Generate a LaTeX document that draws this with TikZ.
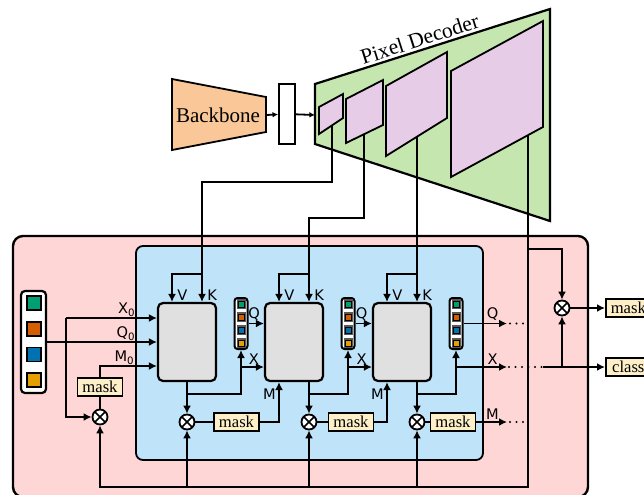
\documentclass[tikz,border=0pt]{standalone}
\usepackage{fontspec}
\setmainfont{Liberation Serif}
\newfontfamily\lblfont{DejaVu Sans}
\usepackage{tikz}
\usetikzlibrary{arrows.meta, positioning}
\definecolor{rosaChiaro}{RGB}{255, 214, 214}
\definecolor{azzurroChiaro}{RGB}{191, 227, 248}
\definecolor{grigioChiaro}{RGB}{224, 224, 224}
\definecolor{verdeChiaro}{RGB}{198, 230, 176}
\definecolor{violaChiaro}{RGB}{230, 204, 230}
\definecolor{arancioChiaro}{RGB}{249, 199, 152}
\definecolor{crema}{RGB}{253, 240, 200}
\definecolor{tokVerde}{RGB}{0, 158, 115}
\definecolor{tokArancio}{RGB}{213, 94, 0}
\definecolor{tokBlu}{RGB}{0, 114, 178}
\definecolor{tokGiallo}{RGB}{230, 159, 0}

\begin{document}
\begin{tikzpicture}[x=0.5pt, y=-0.5pt,
    conn/.style={draw=black, line width=0.9pt},
    arr/.style={conn, -{Latex[length=4pt, width=4pt]}},
    blocco/.style={draw=black, line width=1.1pt, rounded corners=2.5pt, fill=grigioChiaro, minimum width=29pt, minimum height=39pt, inner sep=0pt},
    maskbox/.style={draw=black, line width=0.8pt, fill=crema, minimum width=22.5pt, minimum height=9pt, inner sep=0pt, font=\fontsize{8.3}{8.3}\selectfont},
    prod/.style={circle, draw=black, line width=0.9pt, fill=white, minimum size=7.5pt, inner sep=0pt,
        path picture={\draw[line width=0.8pt] (path picture bounding box.north west) -- (path picture bounding box.south east)
            (path picture bounding box.north east) -- (path picture bounding box.south west);}},
    lbl/.style={font=\lblfont\fontsize{7.3}{8}\selectfont, inner sep=0.5pt},
    dotline/.style={line width=1.1pt, line cap=round, dash pattern=on 0pt off 3.25pt}]
    \useasboundingbox (0,0) rectangle (644,494);

    % Containers
    \draw[fill=rosaChiaro, line width=1.2pt, rounded corners=5pt] (13,236) rectangle (588,497);
    \draw[fill=azzurroChiaro, line width=0.9pt, rounded corners=3.5pt] (136,246) rectangle (483,460);

    % Backbone and Pixel Decoder
    \draw[fill=arancioChiaro, line width=0.9pt] (172,79) -- (266,97) -- (266,132) -- (172,150) -- cycle;
    \node[font=\fontsize{10.5}{11}\selectfont] (bb) at (218,115) {Backbone};
    \coordinate (bbr) at (266,115);
    \node[draw, fill=white, line width=0.9pt, minimum width=8pt, minimum height=30pt, inner sep=0pt] (neck) at (287,114) {};
    \draw[fill=verdeChiaro, line width=1.1pt] (315,84) -- (550,9) -- (550,221) -- (315,144) -- cycle;
    \coordinate (pdl) at (315,115);
    \node[rotate=17.7, anchor=south, inner sep=1.5pt, font=\fontsize{10.8}{11}\selectfont] (pdtitle) at (423,49.5) {Pixel Decoder};
    \foreach \xa/\ya/\yb/\xb/\yc/\yd in {319/107/134/343/94/118, 346/99/143/383/80/125, 386/86/156/447/52/118, 451/71/177/543/21/127}
        \draw[fill=violaChiaro, line width=0.9pt] (\xa,\ya) -- (\xb,\yc) -- (\xb,\yd) -- (\xa,\yb) -- cycle;
    \coordinate (p1) at (332,125.3);
    \coordinate (p2) at (364,134.2);
    \coordinate (p3) at (417,136.7);
    \coordinate (p4) at (528,135.2);
    \draw[conn, -{Latex[length=2.8pt, width=2.8pt]}] (bbr) -- (neck);
    \draw[conn, -{Latex[length=2.8pt, width=2.8pt]}] (neck) -- (pdl);

    % Queries
    \node[draw, line width=1.1pt, rounded corners=2pt, fill=white, minimum width=12.5pt, minimum height=51pt, inner sep=0pt] (tok) at (33.5,342) {};
    \foreach \c [count=\i from 0] in {tokVerde, tokArancio, tokBlu, tokGiallo}
        \node[draw, line width=0.8pt, fill=\c, minimum size=7pt, inner sep=0pt] (tok-\i) at (34, {303+25.7*\i}) {};
    \foreach \n/\cx in {2/241, 3/348, 4/456} {
        \node[draw, line width=1pt, rounded corners=1.5pt, fill=white, minimum width=6.5pt, minimum height=25.5pt, inner sep=0pt] (col\n) at (\cx,323.5) {};
        \foreach \c [count=\i from 0] in {tokVerde, tokArancio, tokBlu, tokGiallo} {
            \fill[black!65] (\cx-4.5, {304+13*\i-4.8}) rectangle (\cx+4.5, {304+13*\i+4.8});
            \node[draw, line width=0.5pt, fill=\c, minimum size=3pt, inner sep=0pt] (col\n-\i) at (\cx, {304+13*\i}) {};
        }
    }

    % Decoder layers
    \node[blocco] (b1) at (187,342) {};
    \node[blocco] (b2) at (294,342) {};
    \node[blocco] (b3) at (402,342) {};

    % Masking
    \node[prod] (m0) at (100,417) {};
    \node[prod] (m1) at (187,422) {};
    \node[prod] (m2) at (309,422) {};
    \node[prod] (m3) at (417,422) {};
    \node[prod] (mo) at (562,308) {};
    \node[maskbox] (k0) at (100,387) {mask};
    \node[maskbox] (k1) at (236.5,422) {mask};
    \node[maskbox] (k2) at (351,422) {mask};
    \node[maskbox] (k3) at (453,422) {mask};
    \node[maskbox, anchor=west] (omask) at (605,308) {mask};
    \node[maskbox, anchor=west] (oclass) at (605,367) {class};

    % V and K
    \foreach \i in {1,2,3} {
        \coordinate (vin\i) at ([xshift=-7.5pt]b\i.north);
        \coordinate (kin\i) at ([xshift=7.5pt]b\i.north);
        \draw[arr] (kin\i |- 0,274) -| (vin\i);
        \node[lbl, anchor=south west] (lv\i) at ([xshift=2pt]vin\i) {V};
        \node[lbl, anchor=south west] (lk\i) at ([xshift=2pt]kin\i) {K};
    }
    \draw[arr] (p1) -- (p1 |- 0,182) -| (kin1);
    \draw[arr] (p2) -- (p2 |- 0,218) -| (kin2);
    \draw[arr] (p3) -- (kin3);

    % Inputs of the first layer
    \coordinate (x0s) at (66,318);
    \draw[arr] (x0s) -- (x0s -| b1.west);
    \draw[arr] (x0s) |- (m0);
    \draw[arr] (tok.east) -- (b1.west);
    \draw[conn] (m0) -- (k0);
    \draw[arr] (k0) |- (b1.west |- 0,366);
    \node[lbl, anchor=south east] (lx0) at (137,318) {X\textsubscript{0}};
    \node[lbl, anchor=south east] (lq0) at (137,342) {Q\textsubscript{0}};
    \node[lbl, anchor=south east] (lm0) at (136,366) {M\textsubscript{0}};

    % Between layers
    \draw[arr] (b1.south) -- (m1);
    \draw[arr] (b2.south -| m2) -- (m2);
    \draw[arr] (b3.south -| m3) -- (m3);
    \draw[arr] (m1 |- 0,394) -| (col2.south);
    \draw[arr] (m2 |- 0,394) -| (col3.south);
    \draw[arr] (m3 |- 0,394) -| (col4.south);
    \draw[arr] (col2.east) -- (col2.east -| b2.west);
    \draw[arr] (col3.east) -- (col3.east -| b3.west);
    \draw[arr] (col2 |- 0,367) -- (b2.west |- 0,367);
    \draw[arr] (col3 |- 0,367) -- (b3.west |- 0,367);
    \draw[conn] (m1) -- (k1);
    \draw[conn] (m2) -- (k2);
    \draw[conn] (m3) -- (k3);
    \draw[arr] (k1.east) -| (vin2 |- b2.south);
    \draw[arr] (k2.east) -| (vin3 |- b3.south);
    \node[lbl, anchor=south] (lq2) at (254,322) {Q};
    \node[lbl, anchor=south] (lx2) at (254,366) {X};
    \node[lbl, anchor=south] (lq3) at (361.5,322) {Q};
    \node[lbl, anchor=south] (lx3) at (361.5,366) {X};
    \node[lbl, anchor=east] (lm2) at (277,394.5) {M};
    \node[lbl, anchor=east] (lm3) at (385,394.5) {M};

    % Outputs
    \coordinate (qout) at (507,323.5);
    \coordinate (xout) at (507,367);
    \coordinate (mout) at (507,422);
    \coordinate (xs) at (543,367);
    \draw[arr] (col4.east) -- (qout);
    \draw[arr] (col4 |- 0,367) -- (xout);
    \draw[arr] (k3.east) -- (mout);
    \draw[dotline] ([xshift=1.5pt]qout) -- ++(6.7pt,0);
    \draw[dotline] ([xshift=1pt]xout) -- ++(16.4pt,0);
    \draw[dotline] ([xshift=1.5pt]mout) -- ++(6.7pt,0);
    \node[lbl, anchor=south] (lqo) at (492.5,322) {Q};
    \node[lbl, anchor=south] (lxo) at (492.5,366) {X};
    \node[lbl, anchor=south] (lmo) at (492.5,421) {M};
    \draw[arr] (p4) |- (m0 |- 0,487) -- (m0);
    \foreach \m in {m1,m2,m3}
        \draw[arr] (\m |- 0,487) -- (\m);
    \draw[arr] (p4 |- 0,249) -| (mo);
    \draw[arr] (xs) -- (oclass);
    \draw[arr] (mo |- oclass) -- (mo);
    \draw[arr] (mo) -- (omask);
\end{tikzpicture}
\end{document}
